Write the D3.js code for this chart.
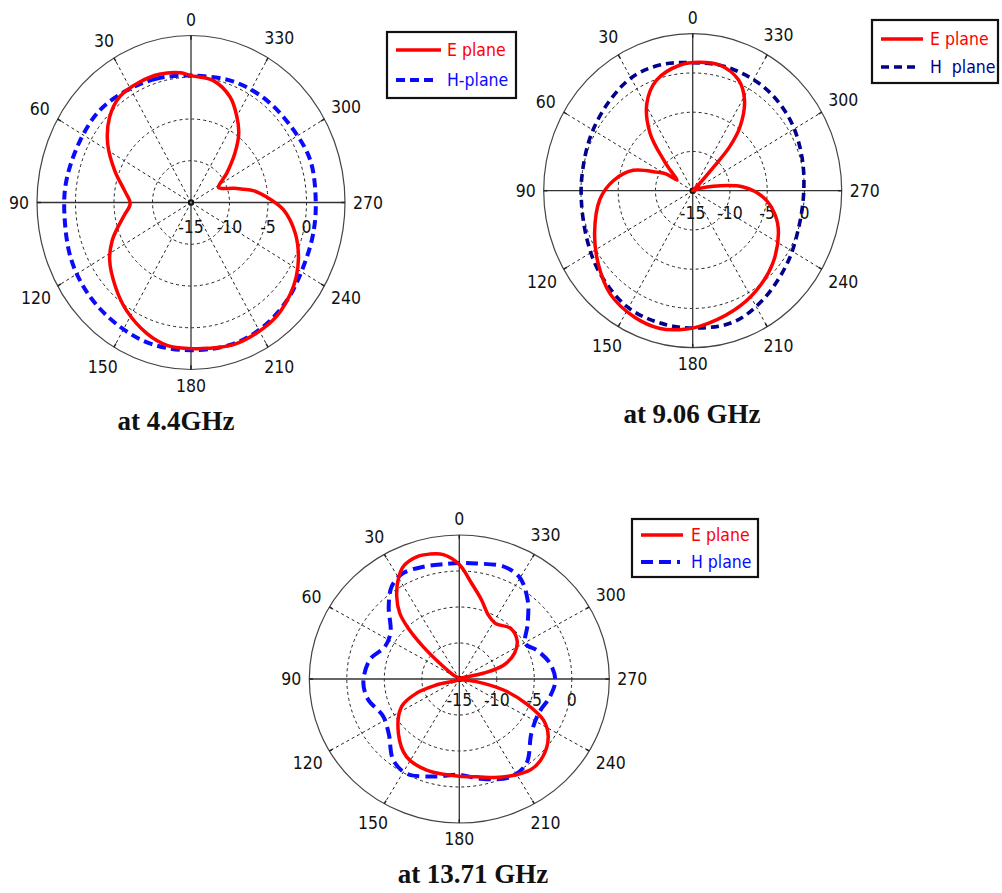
<!DOCTYPE html>
<html><head><meta charset="utf-8">
<script src="https://cdn.jsdelivr.net/npm/d3@7"></script>
<style>body{margin:0;background:#fff}svg{display:block}</style>
</head><body>
<svg id="chart" width="1002" height="893"></svg>
<script>
// ---------- data ----------
const angleTicks = [0, 30, 60, 90, 120, 150, 180, 210, 240, 270, 300, 330];
const radialTicks = [-15, -10, -5, 0];
const radialDomain = [-15, 5];

const titles = ["at 4.4GHz", "at 9.06 GHz", "at 13.71 GHz"];
const eLabels = ["E plane", "E plane", "E plane"];
const hLabels = ["H-plane", "H  plane", "H plane"];

// 4.4 GHz
const p1EAngles = [0,5,15,25,36,46,57,69,81,91,100,107,114,123,136,147,160,170,180,187,198,209,219,230,237,245,255,266,274,280,283,287,293,297,307,316,323,330,338,349];
const p1EValues = [0.2,0.6,0.9,0.9,0.7,-0.3,-2.1,-4.4,-6.3,-7.1,-6.2,-5.1,-3.8,-2.4,-0.9,0.4,1.7,2.4,2.5,2.6,2.9,2.8,2.6,1.9,1.3,0.4,-1.0,-3.0,-5.2,-6.8,-8.0,-9.2,-10.7,-11.0,-9.2,-6.8,-4.7,-3.1,-1.4,-0.1];
const p1HAngles = [0,17,32,47,63,81,95,114,131,148,163,180,198,212,227,242,257,271,288,303,321,339];
const p1HValues = [0.2,0.5,0.8,1.2,1.2,1.4,1.5,2.0,2.3,2.5,2.7,2.7,2.8,2.6,2.1,1.5,1.3,1.2,1.3,0.9,0.7,0.5];

// 9.06 GHz
const p2EAngles = [6,19,29,38,45,49,57,59,64,72,83,95,112,126,140,154,166,174,183,200,214,229,245,255,265,274,282,287,300,314,317,318.5,322,329,336.5,347,357];
const p2EValues = [1.1,-0.1,-2.3,-5.7,-9.5,-11.0,-12.5,-10.9,-9.6,-6.6,-4.3,-2.5,-0.8,0.7,2.2,2.9,3.1,2.8,2.3,1.2,0.3,-0.8,-2.3,-3.6,-5.5,-8.2,-12.2,-14.0,-16,-14.0,-10.9,-7.5,-4.7,-1.5,0.4,1.4,1.4];
const p2HAngles = [0,15,29,44,62,80,95,114,130,149,164,180,198,214,234,251,269,287,305,324,344];
const p2HValues = [1.3,1.6,1.6,1.0,0.4,0.0,0.0,0.5,1.3,2.2,2.4,2.5,2.6,1.8,0.7,0.0,-0.1,0.3,0.9,1.3,1.4];

// 13.71 GHz
const p3EAngles = [0,7,13,18.5,25,30,36,41,44,47,50,55,80,105,109,116.5,133,147,161,173,180,190,203,217,226,236,243,249,255.5,261,272,284,288,296,305,316,328,336.5,345,353];
const p3EValues = [0.9,2.4,2.8,2.9,2.4,1.2,-0.8,-2.9,-5.2,-8.4,-11.6,-14.0,-16,-11.9,-9.0,-6.4,-3.9,-2.1,-1.6,-1.6,-1.5,-1.2,-0.2,0.8,0.5,-0.7,-2.4,-5.4,-8.9,-12.7,-16,-11.7,-8.8,-6.8,-5.6,-5.2,-5.9,-5.3,-3.6,-1.6];
const p3HAngles = [0,8,17,27,35,43,55,66,77,92,103,117,129,142,152,167,180,191,206,217,232,246,258,269,280,291,299,310,320,330,339,352];
const p3HValues = [1.1,1.1,1.3,1.5,0.7,-1.2,-3.8,-4.1,-2.8,-2.2,-2.5,-3.6,-2.9,-0.7,-0.1,-1.1,-1.7,-0.9,0.2,-0.2,-2.8,-3.4,-2.7,-2.2,-2.7,-3.9,-4.9,-3.1,-0.8,1.2,1.7,1.2];

// ---------- layout ----------
const panels = [
  {cx:191, cy:202.5, rx:154, ry:167, radLabDy:24, title:titles[0], tx:176, ty:430,
   E:{a:p1EAngles, v:p1EValues}, H:{a:p1HAngles, v:p1HValues},
   hColor:"#0a0aff", hDash:"9,5", hWidth:4, eLabel:eLabels[0], hLabel:hLabels[0],
   leg:{x:387, y:32, w:129, h:66, x1:396, x2:441, tx:447, y1:50, y2:80}},
  {cx:692.7, cy:190.7, rx:149, ry:157, radLabDy:22, title:titles[1], tx:692, ty:423,
   E:{a:p2EAngles, v:p2EValues}, H:{a:p2HAngles, v:p2HValues},
   hColor:"#00008b", hDash:"8,5", hWidth:3.6, eLabel:eLabels[1], hLabel:hLabels[1],
   leg:{x:872, y:20, w:126, h:63, x1:881, x2:923, tx:930, y1:39, y2:67}},
  {cx:459.3, cy:679, rx:150, ry:144, radLabDy:21, title:titles[2], tx:473, ty:883,
   E:{a:p3EAngles, v:p3EValues}, H:{a:p3HAngles, v:p3HValues},
   hColor:"#0a0aff", hDash:"12,6", hWidth:4, eLabel:eLabels[2], hLabel:hLabels[2],
   leg:{x:632, y:519, w:126, h:58, x1:641, x2:683, tx:691, y1:535, y2:562}}
];

const svg = d3.select("#chart");
const FONT = "'DejaVu Sans Condensed','DejaVu Sans',sans-serif";
const FS = 17.5;
const rScale = d3.scaleLinear().domain(radialDomain).range([0, 1]).clamp(true);
const rad = d => d * Math.PI / 180;

panels.forEach(p => {
  const g = svg.append("g");
  const px = (ang, r) => p.cx - r * p.rx * Math.sin(rad(ang));
  const py = (ang, r) => p.cy - r * p.ry * Math.cos(rad(ang));

  // dashed rings
  radialTicks.slice(1).forEach(t => {
    g.append("ellipse").attr("cx", p.cx).attr("cy", p.cy)
      .attr("rx", rScale(t) * p.rx).attr("ry", rScale(t) * p.ry)
      .attr("fill", "none").attr("stroke", "#222").attr("stroke-width", 1)
      .attr("stroke-dasharray", "3,3");
  });
  // spokes
  angleTicks.filter(a => a % 90 !== 0).forEach(a => {
    g.append("line").attr("x1", p.cx).attr("y1", p.cy)
      .attr("x2", px(a, 1)).attr("y2", py(a, 1))
      .attr("stroke", "#222").attr("stroke-width", 1).attr("stroke-dasharray", "3,3");
  });
  // main axes
  [0, 90].forEach(a => {
    g.append("line").attr("x1", px(a, 1)).attr("y1", py(a, 1))
      .attr("x2", px(a + 180, 1)).attr("y2", py(a + 180, 1))
      .attr("stroke", "#333").attr("stroke-width", 1.3);
  });
  // outer ellipse
  g.append("ellipse").attr("cx", p.cx).attr("cy", p.cy).attr("rx", p.rx).attr("ry", p.ry)
    .attr("fill", "none").attr("stroke", "#444").attr("stroke-width", 1.2);
  // ticks on outer
  angleTicks.forEach(a => {
    g.append("line").attr("x1", px(a, 1)).attr("y1", py(a, 1))
      .attr("x2", px(a, 0.975)).attr("y2", py(a, 0.975))
      .attr("stroke", "#222").attr("stroke-width", 1.5);
  });
  // center marker
  g.append("circle").attr("cx", p.cx).attr("cy", p.cy).attr("r", 3.2).attr("fill", "#111");
  g.append("circle").attr("cx", p.cx).attr("cy", p.cy).attr("r", 1.2).attr("fill", "#777");

  // angle labels
  angleTicks.forEach(a => {
    const s = Math.abs(Math.sin(rad(a))), c = Math.abs(Math.cos(rad(a)));
    const halfW = String(a).length * 5;
    const off = 8 + s * halfW + c * 8;
    const x = p.cx - (p.rx + off) * Math.sin(rad(a));
    const y = p.cy - (p.ry + off) * Math.cos(rad(a));
    g.append("text").attr("x", x).attr("y", y)
      .attr("text-anchor", "middle").attr("dominant-baseline", "central")
      .attr("font-family", FONT).attr("font-size", FS).attr("fill", "#111").text(a);
  });
  // radial labels
  radialTicks.forEach(t => {
    g.append("text").attr("x", p.cx + rScale(t) * p.rx).attr("y", p.cy + p.radLabDy)
      .attr("text-anchor", "middle").attr("dominant-baseline", "central")
      .attr("font-family", FONT).attr("font-size", FS).attr("fill", "#111").text(t);
  });

  // series
  const line = d3.line()
    .x(d => px(d[0], rScale(d[1])))
    .y(d => py(d[0], rScale(d[1])))
    .curve(d3.curveCatmullRomClosed.alpha(0.5));
  g.append("path").datum(d3.zip(p.H.a, p.H.v)).attr("d", line)
    .attr("fill", "none").attr("stroke", p.hColor).attr("stroke-width", p.hWidth)
    .attr("stroke-dasharray", p.hDash);
  g.append("path").datum(d3.zip(p.E.a, p.E.v)).attr("d", line)
    .attr("fill", "none").attr("stroke", "#ff0000").attr("stroke-width", 3.5)
    .attr("stroke-linejoin", "round");

  // legend
  const L = p.leg;
  g.append("rect").attr("x", L.x).attr("y", L.y).attr("width", L.w).attr("height", L.h)
    .attr("fill", "#fff").attr("stroke", "#111").attr("stroke-width", 2.2);
  g.append("line").attr("x1", L.x1).attr("x2", L.x2).attr("y1", L.y1).attr("y2", L.y1)
    .attr("stroke", "#ff0000").attr("stroke-width", 3.5);
  g.append("line").attr("x1", L.x1).attr("x2", L.x2 - 3).attr("y1", L.y2).attr("y2", L.y2)
    .attr("stroke", p.hColor).attr("stroke-width", p.hWidth).attr("stroke-dasharray", p.hDash);
  g.append("text").attr("x", L.tx).attr("y", L.y1).attr("dominant-baseline", "central")
    .attr("font-family", FONT).attr("font-size", FS).attr("fill", "#ff0000").text(p.eLabel);
  g.append("text").attr("x", L.tx).attr("y", L.y2).attr("dominant-baseline", "central")
    .style("white-space", "pre")
    .attr("font-family", FONT).attr("font-size", FS).attr("fill", p.hColor).text(p.hLabel);

  // title
  g.append("text").attr("x", p.tx).attr("y", p.ty).attr("text-anchor", "middle")
    .attr("font-family", "'Liberation Serif','Times New Roman',serif")
    .attr("font-weight", "bold").attr("font-size", 27).attr("fill", "#111").text(p.title);
});
</script>
</body></html>
